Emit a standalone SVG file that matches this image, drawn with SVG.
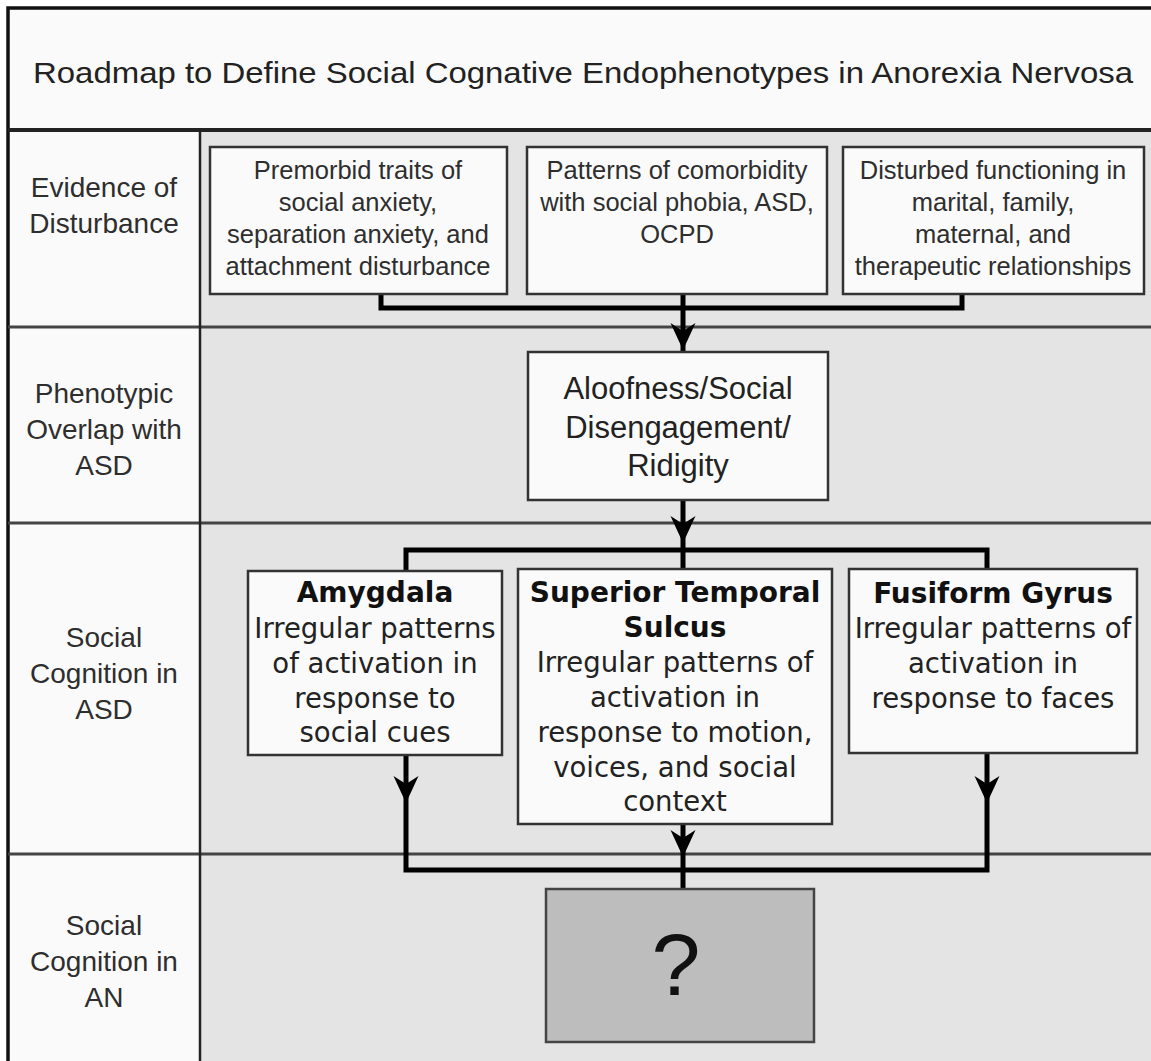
<svg xmlns="http://www.w3.org/2000/svg" width="1151" height="1061" viewBox="0 0 1151 1061">
<style>
.lbl{font-family:"Liberation Sans",Arial,sans-serif;font-size:28px;fill:#2e2e2e;text-anchor:middle}
.bx{font-family:"Liberation Sans",Arial,sans-serif;font-size:25.5px;fill:#2e2e2e;text-anchor:middle}
.big{font-family:"Liberation Sans",Arial,sans-serif;font-size:31px;fill:#222;text-anchor:middle}
.dv{font-family:"DejaVu Sans",Verdana,sans-serif;font-size:27.5px;fill:#222;text-anchor:middle}
.dvb{font-family:"DejaVu Sans",Verdana,sans-serif;font-size:28px;font-weight:bold;fill:#111;text-anchor:middle}
.node{fill:#fafafa;stroke:#333;stroke-width:2.5}
.sep{stroke:#444;stroke-width:3;fill:none}
.conn{stroke:#000;stroke-width:5;fill:none;stroke-linejoin:miter}
</style>
<defs>
<path id="ah" d="M0,0 L-12.5,-27 L0,-19 L12.5,-27 Z" fill="#000"/>
</defs>
<!-- backgrounds -->
<rect x="0" y="0" width="1151" height="1061" fill="#ffffff"/>
<rect x="8" y="8" width="1143" height="122" fill="#fafafa"/>
<rect x="8" y="130" width="192" height="931" fill="#fafafa"/>
<rect x="200" y="130" width="951" height="931" fill="#e4e4e4"/>
<g id="frame">
<path d="M8,1061 V8 H1151" stroke="#111" stroke-width="3.5" fill="none"/>
<line x1="8" y1="130" x2="1151" y2="130" stroke="#222" stroke-width="4"/>
<line class="sep" x1="8" y1="327" x2="1151" y2="327"/>
<line class="sep" x1="8" y1="523" x2="1151" y2="523"/>
<line class="sep" x1="8" y1="854" x2="1151" y2="854"/>
<line x1="200" y1="130" x2="200" y2="1061" stroke="#222" stroke-width="2.5"/>
</g>
<g id="title">
<text x="583" y="83" font-family="Liberation Sans,Arial,sans-serif" font-size="30" fill="#222" text-anchor="middle" textLength="1100" lengthAdjust="spacingAndGlyphs">Roadmap to Define Social Cognative Endophenotypes in Anorexia Nervosa</text>
</g>
<g id="label-evidence"><text class="lbl" x="104" y="197">Evidence of</text><text class="lbl" x="104" y="233">Disturbance</text></g>
<g id="label-phenotypic"><text class="lbl" x="104" y="403">Phenotypic</text><text class="lbl" x="104" y="439">Overlap with</text><text class="lbl" x="104" y="475">ASD</text></g>
<g id="label-asd"><text class="lbl" x="104" y="647">Social</text><text class="lbl" x="104" y="683">Cognition in</text><text class="lbl" x="104" y="719">ASD</text></g>
<g id="label-an"><text class="lbl" x="104" y="935">Social</text><text class="lbl" x="104" y="971">Cognition in</text><text class="lbl" x="104" y="1007">AN</text></g>
<g id="connectors">
<path class="conn" d="M381,294 V308 H962 V294"/>
<path class="conn" d="M683,294 V352"/>
<use href="#ah" x="683" y="350"/>
<path class="conn" d="M683,500 V550"/>
<use href="#ah" x="683" y="543"/>
<path class="conn" d="M406,571 V550 H987 V569"/>
<path class="conn" d="M683,550 V569"/>
<path class="conn" d="M406,755 V870 H987 V753"/>
<use href="#ah" x="406" y="803"/>
<use href="#ah" x="987" y="803"/>
<path class="conn" d="M683,824 V889"/>
<use href="#ah" x="683" y="857"/>
</g>
<g id="box-premorbid">
<rect class="node" x="210" y="147" width="297" height="147"/>
<text class="bx" x="358" y="179">Premorbid traits of</text>
<text class="bx" x="358" y="211">social anxiety,</text>
<text class="bx" x="358" y="243">separation anxiety, and</text>
<text class="bx" x="358" y="275">attachment disturbance</text>
</g>
<g id="box-comorbidity">
<rect class="node" x="527" y="147" width="300" height="147"/>
<text class="bx" x="677" y="179">Patterns of comorbidity</text>
<text class="bx" x="677" y="211">with social phobia, ASD,</text>
<text class="bx" x="677" y="243">OCPD</text>
</g>
<g id="box-functioning">
<rect class="node" x="843" y="147" width="301" height="147"/>
<text class="bx" x="993" y="179">Disturbed functioning in</text>
<text class="bx" x="993" y="211">marital, family,</text>
<text class="bx" x="993" y="243">maternal, and</text>
<text class="bx" x="993" y="275">therapeutic relationships</text>
</g>
<g id="box-aloofness">
<rect class="node" x="528" y="352" width="300" height="148"/>
<text class="big" x="678" y="399">Aloofness/Social</text>
<text class="big" x="678" y="438">Disengagement/</text>
<text class="big" x="678" y="476">Ridigity</text>
</g>
<g id="box-amygdala">
<rect class="node" x="248" y="571" width="254" height="184"/>
<text class="dvb" x="375" y="602">Amygdala</text>
<text class="dv" x="375" y="638">Irregular patterns</text>
<text class="dv" x="375" y="673">of activation in</text>
<text class="dv" x="375" y="708">response to</text>
<text class="dv" x="375" y="742">social cues</text>
</g>
<g id="box-sts">
<rect class="node" x="518" y="569" width="314" height="255"/>
<text class="dvb" x="675" y="602">Superior Temporal</text>
<text class="dvb" x="675" y="637">Sulcus</text>
<text class="dv" x="675" y="672">Irregular patterns of</text>
<text class="dv" x="675" y="707">activation in</text>
<text class="dv" x="675" y="742">response to motion,</text>
<text class="dv" x="675" y="777">voices, and social</text>
<text class="dv" x="675" y="811">context</text>
</g>
<g id="box-fusiform">
<rect class="node" x="849" y="569" width="288" height="184"/>
<text class="dvb" x="993" y="603">Fusiform Gyrus</text>
<text class="dv" x="993" y="638">Irregular patterns of</text>
<text class="dv" x="993" y="673">activation in</text>
<text class="dv" x="993" y="708">response to faces</text>
</g>
<g id="box-unknown">
<rect x="546" y="889" width="268" height="153" fill="#bdbdbd" stroke="#444" stroke-width="2.5"/>
<text x="676" y="995" font-family="Liberation Sans,Arial,sans-serif" font-size="88" fill="#111" text-anchor="middle">?</text>
</g>
</svg>
